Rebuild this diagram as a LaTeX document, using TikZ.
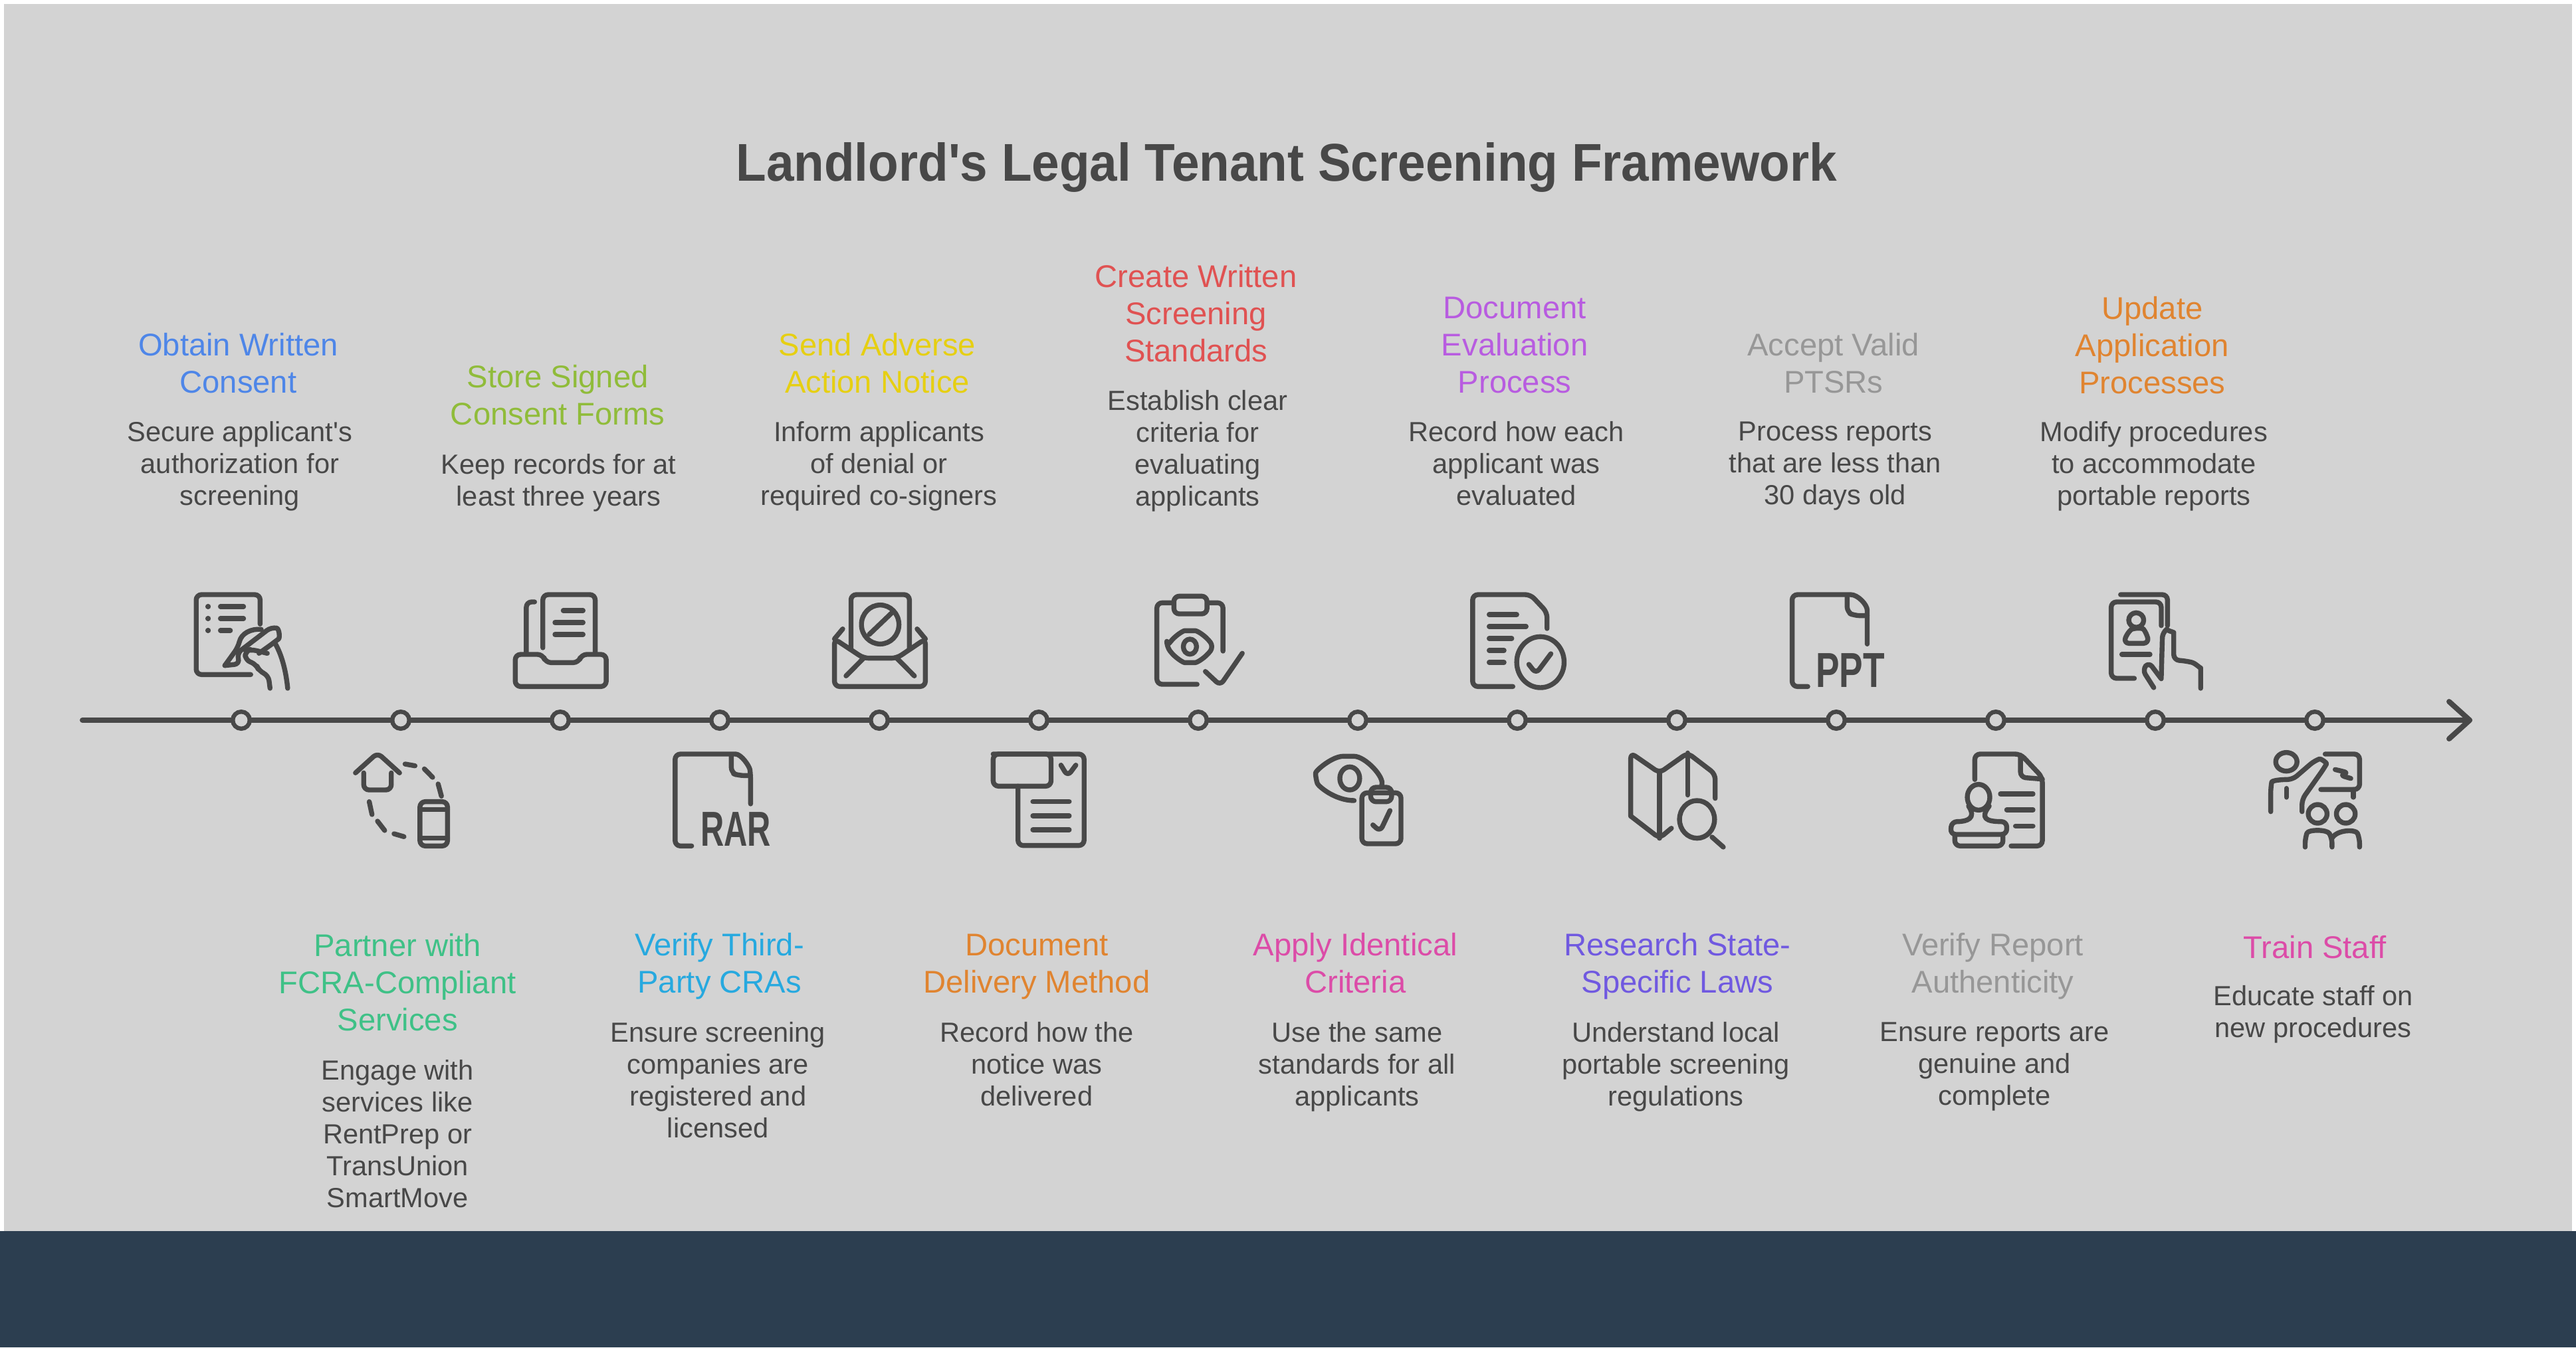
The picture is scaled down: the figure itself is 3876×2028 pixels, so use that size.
\documentclass[tikz,border=0pt]{standalone}
\usepackage{fontspec}
\setmainfont{Liberation Sans}[Ligatures=TeXOff]
\definecolor{bgg}{HTML}{D3D3D3}
\definecolor{band}{HTML}{2C3E50}
\definecolor{ink}{HTML}{484848}
\definecolor{cblue}{HTML}{4E86E8}
\definecolor{cgreen}{HTML}{90BC3A}
\definecolor{cyell}{HTML}{E6CF12}
\definecolor{cred}{HTML}{E05252}
\definecolor{cpurp}{HTML}{B85CE0}
\definecolor{cgray}{HTML}{979797}
\definecolor{corange}{HTML}{E08430}
\definecolor{cteal}{HTML}{3FC187}
\definecolor{csky}{HTML}{27A9DF}
\definecolor{cpink}{HTML}{DC4CA8}
\definecolor{cviol}{HTML}{7059E0}
\tikzset{
  lab/.style={align=center,font=\fontsize{11.8pt}{14pt}\selectfont,inner sep=0pt,yshift=-1.8pt,execute at begin node=\strut,execute at end node=\strut},
  dsc/.style={align=center,font=\fontsize{10.4pt}{12pt}\selectfont,text=ink,inner sep=0pt,yshift=-1.6pt,execute at begin node=\strut,execute at end node=\strut},
  ttl/.style={font=\bfseries\fontsize{20pt}{24pt}\selectfont,text=ink,inner sep=0pt,xscale=.934},
  dotn/.style={circle,draw=ink,fill=bgg,line width=1.6pt,minimum size=6.4pt,inner sep=0pt},
  ico/.style={draw=ink,line width=1.85pt,line cap=round,line join=round,rounded corners=2pt},
  glyph/.style={text=ink,inner sep=0pt,font=\bfseries\fontsize{18.5pt}{20pt}\selectfont},
  zone1/.style={shift={(0pt,-205pt)},x=.2073pt,y=-.08333pt},
  zone2/.style={shift={(300pt,-205pt)},x=.2073pt,y=-.08333pt},
  zone3/.style={shift={(600pt,-205pt)},x=.23534pt,y=-.08333pt}
}
\begin{document}
\begin{tikzpicture}[x=.25pt,y=-.25pt]
\useasboundingbox (0,0) rectangle (3876,2028);
\fill[white] (0,0) rectangle (3876,2028);
\fill[bgg] (6,6) rectangle (3870,1853);
\fill[band] (0,1853) rectangle (3876,2028);
% axis
\coordinate (axs) at (124,1084);
\coordinate (axe) at (3716,1084);
\coordinate (ahu) at (3685,1056);
\coordinate (ahd) at (3685,1112);
\draw[ink,line width=2pt,line cap=round] (axs) -- (axe);
\draw[ink,line width=2pt,line cap=round,line join=round] (ahu) -- (axe) -- (ahd);
\foreach \i/\xx in {1/363,2/603,3/843,4/1083,5/1323,6/1563,7/1803,8/2043,9/2283,10/2523,11/2763,12/3003,13/3243,14/3483}{
  \node[dotn] (d\i) at (\xx,1084) {};
}
% text
\begin{scope}[x=.618pt,y=-.618pt]
\node[ttl] (title) at (783,102) {Landlord's Legal Tenant Screening Framework};
\node[lab,text=cblue] (l1) at (145,221.5) {Obtain Written\\Consent};
\node[dsc] (t1) at (146,282.5) {Secure applicant's\\authorization for\\screening};
\node[lab,text=cgreen] (l3) at (339.5,241) {Store Signed\\Consent Forms};
\node[dsc] (t3) at (340,292.5) {Keep records for at\\least three years};
\node[lab,text=cyell] (l5) at (534,221.5) {Send Adverse\\Action Notice};
\node[dsc] (t5) at (535,282.5) {Inform applicants\\of denial or\\required co-signers};
\node[lab,text=cred] (l7) at (728,191) {Create Written\\Screening\\Standards};
\node[dsc] (t7) at (729,273) {Establish clear\\criteria for\\evaluating\\applicants};
\node[lab,text=cpurp] (l9) at (922,210.5) {Document\\Evaluation\\Process};
\node[dsc] (t9) at (923,282.5) {Record how each\\applicant was\\evaluated};
\node[lab,text=cgray] (l11) at (1116,221.5) {Accept Valid\\PTSRs};
\node[dsc] (t11) at (1117,282.5) {Process reports\\that are less than\\30 days old};
\node[lab,text=corange] (l13) at (1310,210.5) {Update\\Application\\Processes};
\node[dsc] (t13) at (1311,282.5) {Modify procedures\\to accommodate\\portable reports};
\node[lab,text=cteal] (l2) at (242,598.5) {Partner with\\FCRA-Compliant\\Services};
\node[dsc] (t2) at (242,690.5) {Engage with\\services like\\RentPrep or\\TransUnion\\SmartMove};
\node[lab,text=csky] (l4) at (438,587) {Verify Third-\\Party CRAs};
\node[dsc] (t4) at (437,658) {Ensure screening\\companies are\\registered and\\licensed};
\node[lab,text=corange] (l6) at (631,587) {Document\\Delivery Method};
\node[dsc] (t6) at (631,648) {Record how the\\notice was\\delivered};
\node[lab,text=cpink] (l8) at (825,587) {Apply Identical\\Criteria};
\node[dsc] (t8) at (826,648) {Use the same\\standards for all\\applicants};
\node[lab,text=cviol] (l10) at (1021,587) {Research State-\\Specific Laws};
\node[dsc] (t10) at (1020,648) {Understand local\\portable screening\\regulations};
\node[lab,text=cgray] (l12) at (1213,587) {Verify Report\\Authenticity};
\node[dsc] (t12) at (1214,648) {Ensure reports are\\genuine and\\complete};
\node[lab,text=cpink] (l14) at (1409,576) {Train Staff};
\node[dsc] (t14) at (1408,616) {Educate staff on\\new procedures};
\end{scope}
% icons zone 1
\begin{scope}[zone1]
\draw[ico] (472,358) -- (472,225) -- (356,225) -- (356,586) -- (455,586);
\draw[ico] (377,279) -- (378,279) (400,279) -- (442,279) (377,333) -- (378,333) (400,333) -- (442,333) (377,387) -- (378,387) (400,387) -- (418,387);
\draw[ico] (408,545) -- (432,462) .. controls (438,400) and (455,378) .. (474,382);
\draw[ico] (408,545) -- (435,538) -- (430,490) -- (492,372) .. controls (507,378) and (508,420) .. (498,440) -- (470,490);
\draw[ico] (498,440) .. controls (515,510) and (520,600) .. (522,648);
\draw[ico] (490,648) -- (487,590) -- (470,570) -- (465,540) -- (445,520) -- (445,480) -- (455,472) -- (485,490);
%
\draw[ico] (985,465) -- (985,225) -- (1080,225) -- (1080,490);
\draw[ico] (970,258) -- (955,258) -- (955,490);
\draw[ico] (1022,297) -- (1058,297) (1007,351) -- (1058,351) (1007,405) -- (1058,405);
\draw[ico] (985,495) -- (990,532) -- (1050,532) -- (1055,495) -- (1100,495) -- (1100,640) -- (935,640) -- (935,495) -- cycle;
%
\draw[ico] (645,1030) -- (685,940) -- (725,1030);
\draw[ico] (660,1030) -- (660,1107) -- (710,1107) -- (710,1030);
\draw[ico] (762,1160) rectangle (812,1360);
\draw[ico] (762,1195) -- (812,1195) (762,1325) -- (812,1325);
\draw[ico] (735,990) -- (753,998) (770,1012) -- (785,1050) (795,1080) -- (801,1135) (670,1160) -- (675,1218) (685,1248) -- (698,1290) (715,1305) -- (733,1318);
%
\draw[ico] (1362,1170) -- (1362,1040) .. controls (1360,1000) and (1345,945) .. (1325,945) -- (1225,945) -- (1225,1360) -- (1255,1360);
\draw[ico] (1327,955) -- (1327,1030) -- (1340,1042) -- (1362,1042);
\node[glyph,xscale=.66] (rar) at (1335,1285) {RAR};
\end{scope}
% icons zone 2
\begin{scope}[zone2]
\draw[ico] (97,470) -- (97,225) -- (203,225) -- (203,470);
\draw[ico] (67,425) -- (67,640) -- (232,640) -- (232,425) -- (180,512) -- (120,512) -- cycle;
\draw[ico] (67,425) -- (82,380) (232,425) -- (217,380) (120,512) -- (88,592) (180,512) -- (212,592);
\draw[ico] (150,360) ellipse [x radius=34,y radius=88];
\draw[ico] (172,305) -- (130,405);
%
\draw[ico] (683,232) rectangle (743,312);
\draw[ico] (680,262) -- (652,262) -- (652,630) -- (725,630);
\draw[ico] (745,262) -- (772,262) -- (772,480);
\draw[ico] (670,460) .. controls (685,410) and (700,388) .. (712,388) .. controls (725,388) and (740,410) .. (755,460) .. controls (740,510) and (725,532) .. (712,532) .. controls (700,532) and (685,510) .. (670,460) -- cycle;
\draw[ico] (712,460) ellipse [x radius=12,y radius=34];
\draw[ico] (740,572) -- (767,635) -- (807,490);
%
\draw[ico] (1360,378) -- (1360,305) -- (1330,225) -- (1225,225) -- (1225,640) -- (1298,640);
\draw[ico] (1255,315) -- (1305,315) (1255,369) -- (1322,369) (1255,423) -- (1296,423) (1255,477) -- (1282,477) (1255,531) -- (1282,531);
\draw[ico] (1348,530) ellipse [x radius=43,y radius=115];
\draw[ico] (1327,540) -- (1340,582) -- (1367,492);
%
\draw[ico] (355,945) -- (520,945) -- (520,1358) -- (400,1358) -- (400,1090);
\draw[ico] (460,945) -- (460,1090) -- (355,1090) -- (355,945) -- cycle;
\draw[ico] (478,995) -- (490,1045) -- (505,995);
\draw[ico] (427,1160) -- (493,1160) (427,1224) -- (493,1224) (427,1287) -- (493,1287);
%
\draw[ico] (1060,1085) .. controls (1066,1050) and (1030,955) .. (1000,955) .. controls (970,955) and (940,1020) .. (940,1055) .. controls (945,1090) and (975,1155) .. (1010,1155);
\draw[ico] (1002,1055) ellipse [x radius=18,y radius=52];
\draw[ico] (1024,1120) rectangle (1095,1350);
\draw[ico] (1040,1095) rectangle (1078,1160);
\draw[ico] (1044,1265) -- (1057,1295) -- (1075,1200);
\end{scope}
% icons zone 3
\begin{scope}[zone3]
\draw[ico] (340,640) -- (315,640) -- (315,225) -- (400,225) .. controls (420,225) and (435,270) .. (435,320) -- (435,448);
\draw[ico] (403,235) -- (403,305) -- (415,320) -- (435,320);
\node[glyph,xscale=.72] (ppt) at (408,567) {PPT};
%
\draw[ico] (840,225) -- (915,225) -- (915,365);
\draw[ico] (862,603) -- (825,603) -- (825,258) -- (905,258) -- (905,365);
\draw[ico] (865,340) ellipse [x radius=12,y radius=33];
\draw[ico] (845,445) -- (850,400) .. controls (860,375) and (875,375) .. (882,400) -- (885,445) -- cycle;
\draw[ico] (842,495) -- (887,495);
\draw[ico] (905,605) -- (885,530) -- (875,565) -- (893,645);
\draw[ico] (905,600) -- (907,395) .. controls (912,385) and (925,395) .. (925,420) -- (925,520) -- (945,525) .. controls (960,535) and (968,560) .. (968,580) -- (968,648);
%
\draw[ico] (57,1225) -- (57,940) -- (103,1030) -- (148,940) -- (192,1035) -- (192,1145);
\draw[ico] (103,1030) -- (103,1325) (148,940) -- (148,1130);
\draw[ico] (57,1225) -- (103,1325) -- (122,1280);
\draw[ico] (163,1240) ellipse [x radius=28,y radius=85];
\draw[ico] (187,1320) -- (205,1365);
%
\draw[ico] (607,1060) -- (607,945) -- (680,945) -- (715,1050) -- (715,1360) -- (665,1360);
\draw[ico] (680,950) -- (680,1050) -- (715,1058);
\draw[ico] (648,1125) -- (700,1125) (658,1197) -- (700,1197) (672,1270) -- (700,1270);
\draw[ico] (613,1140) ellipse [x radius=18,y radius=58];
\draw[ico] (597,1180) .. controls (610,1235) and (595,1250) .. (570,1250) -- (568,1308) -- (658,1308) -- (658,1250) .. controls (625,1250) and (615,1235) .. (630,1180);
\draw[ico] (575,1308) -- (575,1360) -- (652,1360) -- (652,1308);
%
\draw[ico] (1105,980) ellipse [x radius=17,y radius=42];
\draw[ico] (1080,1205) -- (1080,1095) .. controls (1082,1065) and (1095,1060) .. (1115,1060) -- (1150,975) .. controls (1160,965) and (1170,985) .. (1165,1010) -- (1130,1150) -- (1130,1205);
\draw[ico] (1105,1100) -- (1105,1140);
\draw[ico] (1167,945) -- (1222,945) -- (1222,1105) -- (1160,1105);
\draw[ico] (1212,1105) -- (1212,1140);
\draw[ico] (1183,1015) -- (1205,1030) -- (1190,1040) -- (1208,1055);
\draw[ico] (1155,1215) ellipse [x radius=15,y radius=42];
\draw[ico] (1200,1215) ellipse [x radius=15,y radius=42];
\draw[ico] (1135,1365) -- (1135,1325) .. controls (1140,1285) and (1170,1285) .. (1178,1325) -- (1178,1365);
\draw[ico] (1178,1325) .. controls (1186,1285) and (1216,1285) .. (1222,1325) -- (1222,1365);
\end{scope}
\end{tikzpicture}
\end{document}
